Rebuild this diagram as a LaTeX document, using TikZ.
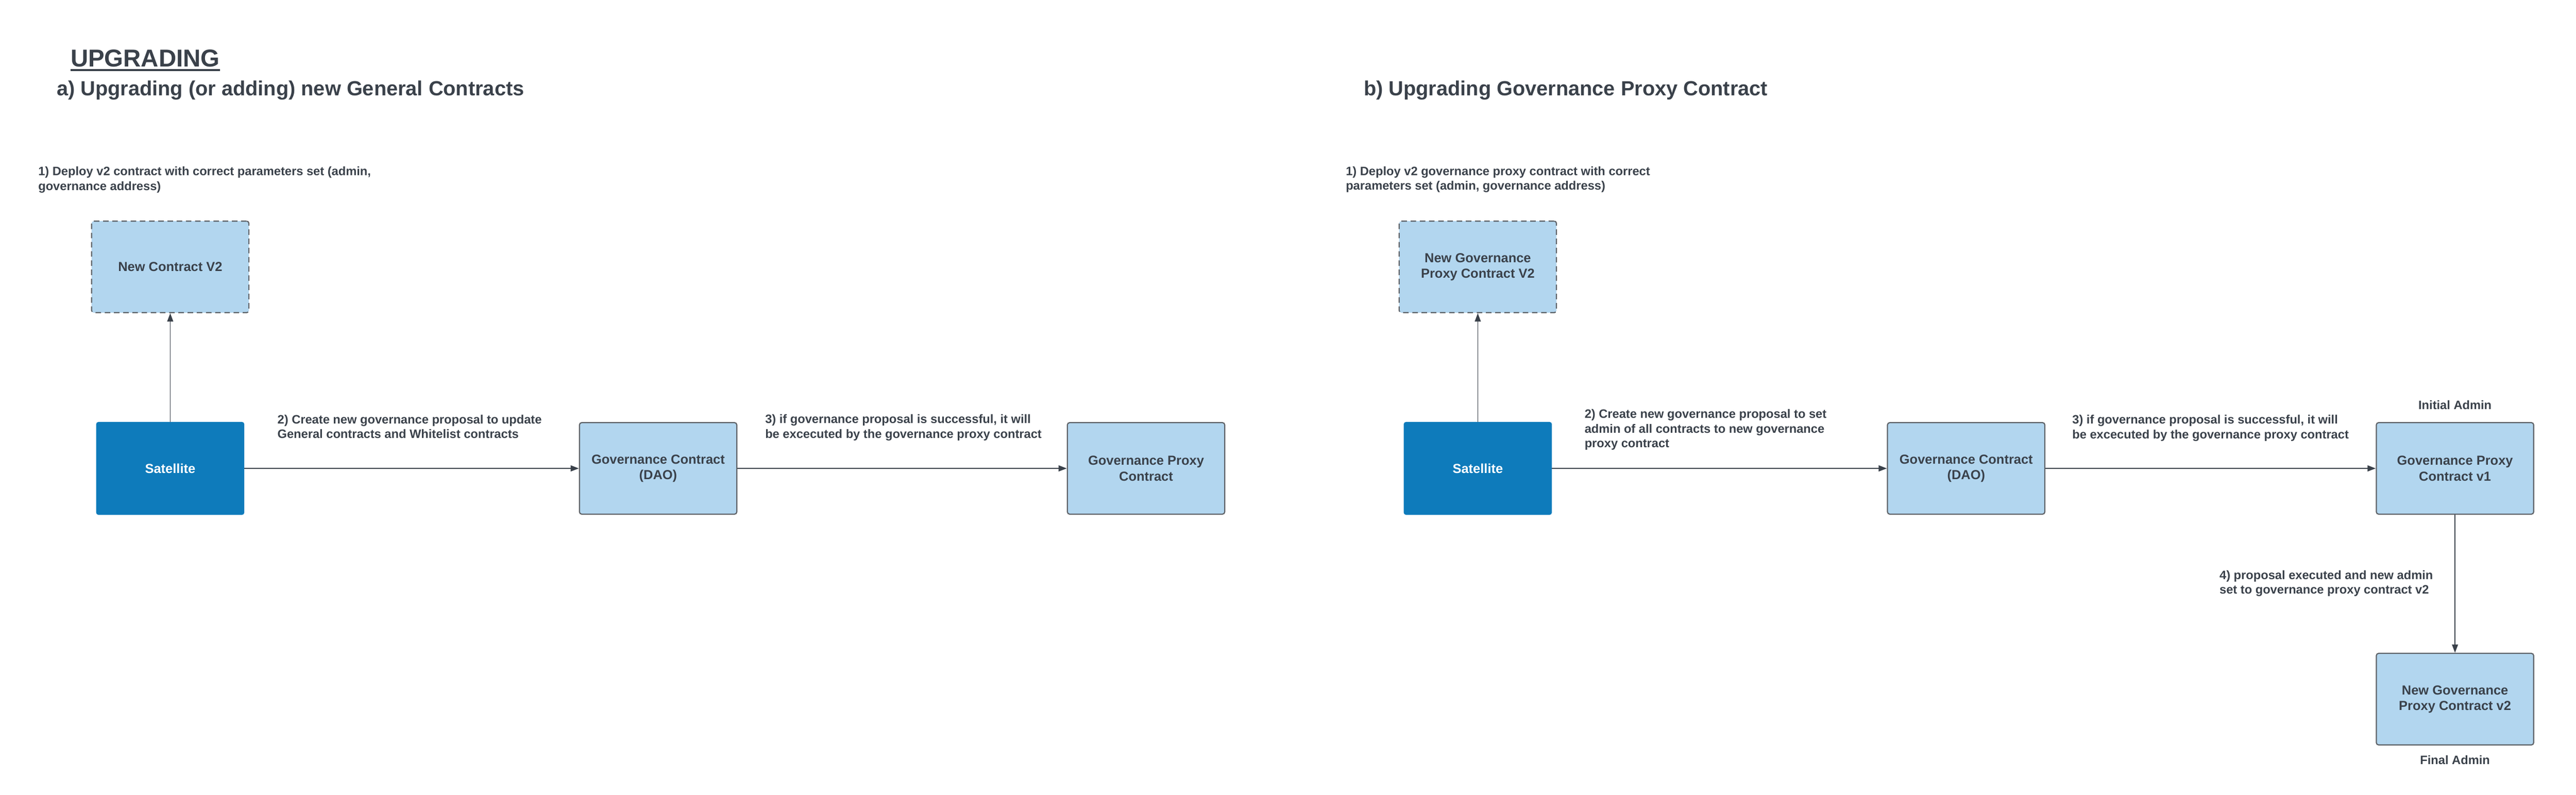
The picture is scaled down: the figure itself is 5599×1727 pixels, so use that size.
\documentclass[tikz,border=0pt]{standalone}
\usepackage{fontspec}
\setmainfont{Liberation Sans}
\usetikzlibrary{positioning, arrows.meta}

\definecolor{ink}{HTML}{3A414A}
\definecolor{lightblue}{HTML}{B2D6EF}
\definecolor{satblue}{HTML}{0E7BBB}
\definecolor{edgegray}{HTML}{5F6368}

\newcommand{\boxfont}{\fontsize{28.5}{34}\selectfont\bfseries}
\newcommand{\lblfont}{\fontsize{26.5}{32}\selectfont\bfseries}
\newcommand{\headfont}{\fontsize{44.5}{50}\selectfont\bfseries}
\newcommand{\upgfont}{\fontsize{53}{60}\selectfont\bfseries}

\begin{document}
\begin{tikzpicture}[x=1pt, y=-1pt,
        every node/.style={align=center, text=ink, font=\boxfont},
        box/.style={rectangle, rounded corners=5pt, draw=edgegray, line width=2.5pt, fill=lightblue,
          minimum width=342pt, minimum height=199pt},
        newbox/.style={box, dash pattern=on 12pt off 8pt},
        satbox/.style={rectangle, rounded corners=5pt, fill=satblue, text=white,
          minimum width=322pt, minimum height=202pt},
        lbl/.style={anchor=north west, inner sep=0pt, align=left, font=\lblfont},
        head/.style={anchor=base west, inner sep=0pt, font=\headfont},
        flow/.style={draw=ink, line width=2.5pt, -{Triangle[length=18pt, width=13pt]}},
        node distance=236pt
      ]
      \fill[white] (0,0) rectangle (5599,1727);
      \useasboundingbox (0,0) rectangle (5599,1727);

      % titles
      \node[head, font=\upgfont] (upg) at (153.5,145) {UPGRADING};
      \draw[ink, line width=4.5pt] ([yshift=-7pt]upg.base west) -- ([yshift=-7pt]upg.base east);
      \node[head] (heada) at (123,208) {a) Upgrading (or adding) new General Contracts};
      \node[head] (headb) at (2964,208) {b) Upgrading Governance Proxy Contract};

      % a) general contracts
      \node[satbox] (sat) at (370,1018) {Satellite};
      \node[newbox, above=of sat] (newv2) {New Contract V2};
      \node[box, right=727pt of sat] (gov) {Governance Contract\\ (DAO)};
      \node[box, right=716pt of gov] (proxy) {Governance Proxy\\ Contract};

      \draw[flow, line width=2pt] (sat) -- (newv2);
      \draw[flow] (sat) -- (gov);
      \draw[flow] (gov) -- (proxy);

      \node[lbl] (deploya) at (83,362) {1) Deploy v2 contract with correct parameters set (admin,\\ governance address)};
      \node[lbl] (createa) at (603,901.5) {2) Create new governance proposal to update\\ General contracts and Whitelist contracts};
      \node[lbl] (execa) at (1663,900.5) {3) if governance proposal is successful, it will\\ be excecuted by the governance proxy contract};

      % b) governance proxy
      \node[satbox] (satb) at (3212,1018) {Satellite};
      \node[newbox, above=of satb] (newproxy) {New Governance\\ Proxy Contract V2};
      \node[box, right=728pt of satb] (govb) {Governance Contract\\ (DAO)};
      \node[box, right=718pt of govb] (proxyv1) {Governance Proxy\\ Contract v1};
      \node[box, below=300pt of proxyv1] (proxyv2) {New Governance\\ Proxy Contract v2};

      \draw[flow, line width=2pt] (satb) -- (newproxy);
      \draw[flow] (satb) -- (govb);
      \draw[flow] (govb) -- (proxyv1);
      \draw[flow, line width=2pt] (proxyv1) -- (proxyv2);

      \node[lbl] (deployb) at (2925,361.5) {1) Deploy v2 governance proxy contract with correct\\ parameters set (admin, governance address)};
      \node[lbl] (createb) at (3444,889.5) {2) Create new governance proposal to set\\ admin of all contracts to new governance\\ proxy contract};
      \node[lbl] (execb) at (4504,902) {3) if governance proposal is successful, it will\\ be excecuted by the governance proxy contract};
      \node[lbl] (adminset) at (4824,1239.5) {4) proposal executed and new admin\\ set to governance proxy contract v2};
      \node[inner sep=0pt, font=\lblfont, above=27pt of proxyv1] (initadmin) {Initial Admin};
      \node[inner sep=0pt, font=\lblfont, below=21pt of proxyv2] (finaladmin) {Final Admin};
\end{tikzpicture}
\end{document}
